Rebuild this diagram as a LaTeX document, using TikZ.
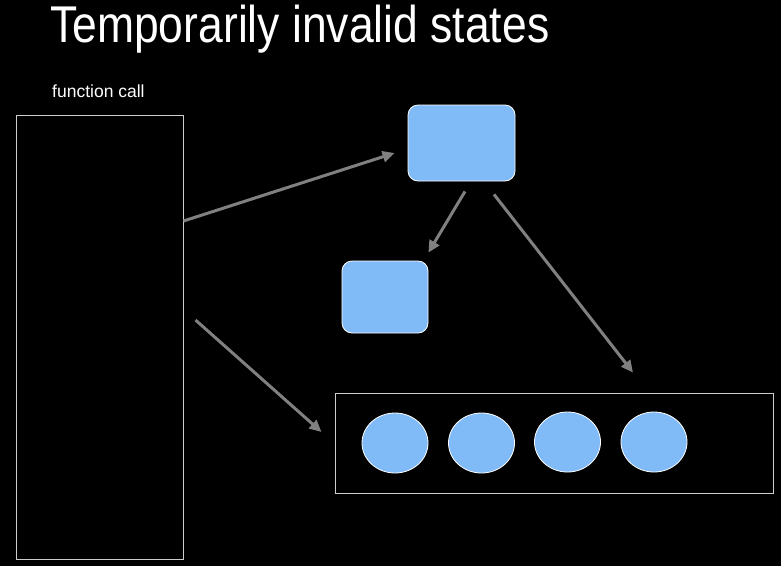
\documentclass[tikz,border=0pt]{standalone}
\usepackage{fontspec}
\setmainfont{Liberation Sans}
\usepackage{tikz}
\usetikzlibrary{shapes.geometric, arrows.meta, positioning, calc}
\definecolor{objblue}{RGB}{128,186,247}
\definecolor{linkgray}{RGB}{128,128,128}
\definecolor{framegray}{RGB}{205,205,205}

\begin{document}
\begin{tikzpicture}[
    x=1pt, y=-1pt,
    frame/.style={rectangle, draw=framegray, line width=1pt, inner sep=0pt},
    obj/.style={rectangle, draw=white, line width=0.8pt, fill=objblue, rounded corners=10pt, inner sep=0pt},
    elem/.style={ellipse, draw=white, line width=0.8pt, fill=objblue, minimum width=66pt, minimum height=60pt, inner sep=0pt},
    link/.style={-{Triangle[length=12pt, width=11pt]}, line width=3pt, linkgray}
]
    \fill[black] (0,0) rectangle (781,566);
    \useasboundingbox (0,0) rectangle (781,566);

    \node[anchor=base west, inner sep=0pt, text=white, font=\fontsize{51.7}{56}\selectfont] (title) at (50,42)
        {\scalebox{0.86}[1]{Temporarily invalid states}};
    \node[anchor=base west, inner sep=0pt, text=white, font=\fontsize{17.5}{20}\selectfont] (calllabel) at (52,97) {function call};

    \node[frame, minimum width=167pt, minimum height=444pt] (call) at (99.5,337) {};
    \node[obj, minimum width=107pt, minimum height=76pt] (root) at (461.5,143) {};
    \node[obj, minimum width=86pt, minimum height=72pt] (child) at (385,297) {};
    \node[frame, minimum width=438pt, minimum height=100pt] (array) at (554,443) {};

    % array elements
    \foreach \i/\x/\y in {1/395/443, 2/481.5/443, 3/567.5/442, 4/654/442}
        \node[elem] (e\i) at (\x,\y) {};

    \draw[link] ([yshift=116pt]call.east) -- ([shift={(-13pt,-10pt)}]root.west);
    \draw[link] ([shift={(12pt,17pt)}]call.east) -- ([shift={(-13pt,11pt)}]array.west);
    \draw[link] ([shift={(3.5pt,-10pt)}]root.south) -- ([yshift=8pt]child.north east);
    \draw[link] ([shift={(32.5pt,-13pt)}]root.south) -- ([shift={(79pt,20pt)}]array.north);
\end{tikzpicture}
\end{document}
